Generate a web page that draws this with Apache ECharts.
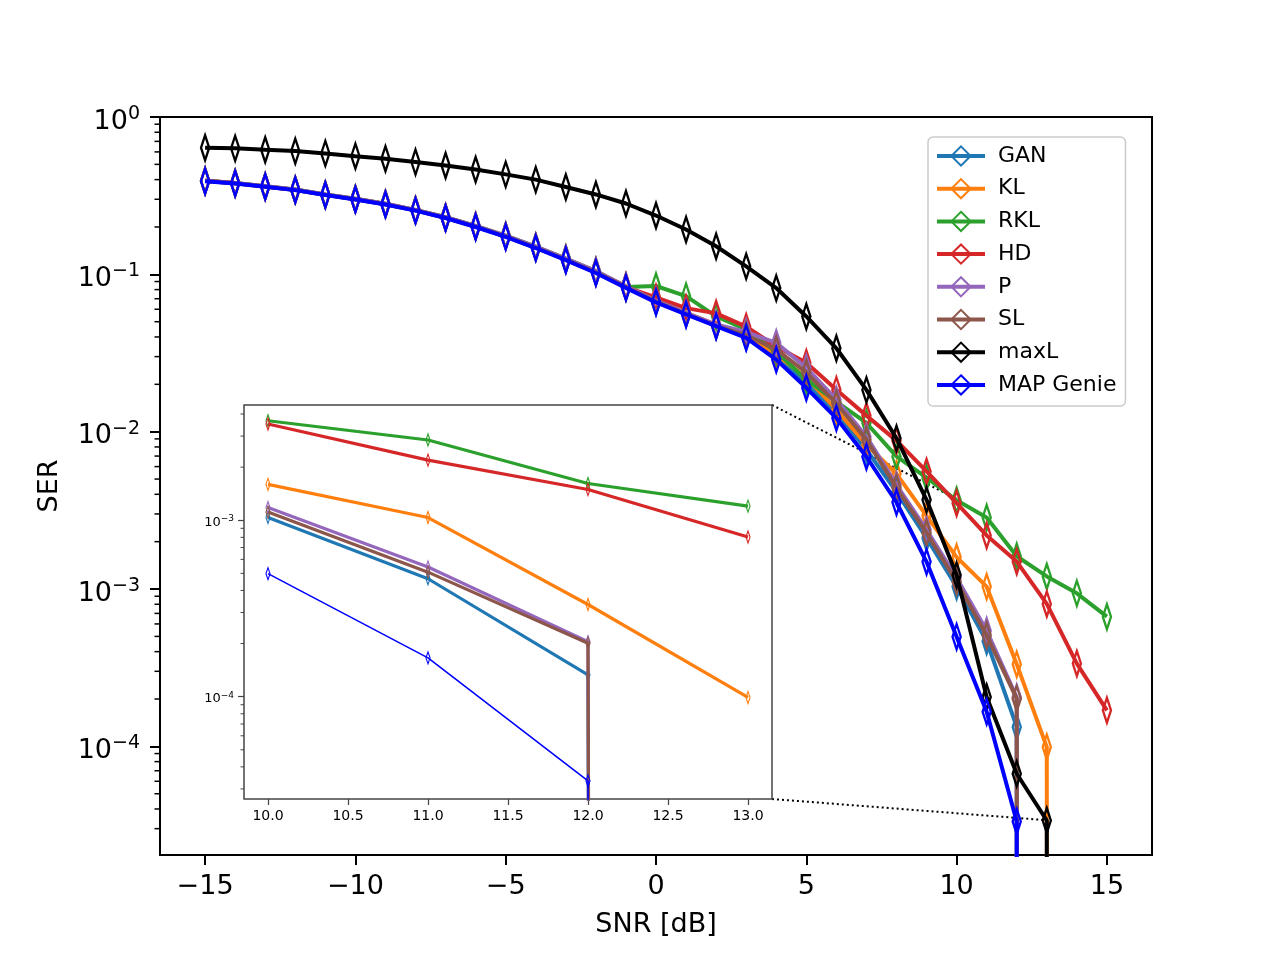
<!DOCTYPE html>
<html><head><meta charset="utf-8">
<script src="https://cdn.jsdelivr.net/npm/echarts@6/dist/echarts.min.js"></script>
<style>html,body{margin:0;padding:0;background:#fff}#c{width:1280px;height:960px}</style>
</head><body><div id="c"></div>
<script>
// ---------------- data ----------------
const snr = [-15,-14,-13,-12,-11,-10,-9,-8,-7,-6,-5,-4,-3,-2,-1,0,1,2,3,4,5,6,7,8,9,10,11,12,13,14,15];
const names = ['GAN','KL','RKL','HD','P','SL','maxL','MAP Genie'];
const colors = ['#1f77b4','#ff7f0e','#2ca02c','#d62728','#9467bd','#8c564b','#000000','#0000ff'];
const serGAN = [0.392,0.379,0.361,0.344,0.320,0.300,0.279,0.255,0.229,0.201,0.174,0.148,0.124,0.103,0.083,0.067,0.0562,0.0473,0.0400,0.0296,0.0202,0.0132,0.00768,0.00415,0.00211,1.036e-3,4.66e-4,1.33e-4,0,0,0];
const serKL = [0.393,0.380,0.362,0.345,0.321,0.301,0.280,0.256,0.230,0.202,0.175,0.149,0.125,0.104,0.084,0.068,0.057,0.048,0.041,0.031,0.0221,0.0138,0.00826,0.0054,0.00292,1.596e-3,1.036e-3,3.33e-4,9.9e-5,0,0];
const serRKL = [0.394,0.381,0.363,0.346,0.322,0.302,0.281,0.257,0.231,0.203,0.176,0.150,0.126,0.105,0.083,0.0843,0.0727,0.054,0.0446,0.0323,0.0214,0.0155,0.01136,0.00696,0.0051,3.665e-3,2.85e-3,1.616e-3,1.202e-3,9.39e-4,6.67e-4];
const serHD = [0.393,0.380,0.362,0.345,0.321,0.301,0.280,0.256,0.230,0.202,0.175,0.149,0.125,0.104,0.083,0.0714,0.061,0.0565,0.0465,0.0348,0.0274,0.0185,0.01265,0.00877,0.00559,3.51e-3,2.19e-3,1.494e-3,8.04e-4,3.36e-4,1.695e-4];
const serP = [0.394,0.381,0.363,0.346,0.322,0.302,0.281,0.257,0.231,0.203,0.176,0.150,0.126,0.105,0.084,0.068,0.057,0.048,0.043,0.0367,0.0255,0.016,0.0093,0.00459,0.00238,1.18e-3,5.43e-4,2.05e-4,0,0,0];
const serSL = [0.392,0.379,0.361,0.344,0.320,0.300,0.279,0.255,0.229,0.201,0.174,0.148,0.124,0.103,0.083,0.067,0.056,0.047,0.041,0.0333,0.0238,0.0151,0.0089,0.0044,0.00227,1.114e-3,5.08e-4,2.01e-4,0,0,0];
const serMaxL = [0.637,0.632,0.619,0.607,0.587,0.564,0.543,0.517,0.492,0.464,0.432,0.400,0.359,0.322,0.282,0.2365,0.1926,0.1508,0.1124,0.0818,0.054,0.0339,0.01843,0.00909,0.00369,1.228e-3,2.06e-4,6.70e-5,3.38e-5,0,0];
const serMAP = [0.391,0.378,0.360,0.343,0.319,0.299,0.278,0.254,0.228,0.200,0.173,0.147,0.123,0.102,0.082,0.0664,0.0556,0.0468,0.0395,0.0287,0.0190,0.0122,0.00693,0.00356,0.00149,4.98e-4,1.66e-4,3.33e-5,0,0,0];
const allSeries = [serGAN, serKL, serRKL, serHD, serP, serSL, serMaxL, serMAP];

const xTicksMain = [-15,-10,-5,0,5,10,15];
const yTicksMain = [1e-4,1e-3,1e-2,1e-1,1];
const xTicksInset = [10,10.5,11,11.5,12,12.5,13];
const yTicksInset = [1e-4,1e-3];
const insetSeriesIdx = [0,1,2,3,4,5,7];   // maxL not shown in inset
const insetX = [10, 13];

// axis ranges
const mainX = [-16.5, 16.5], mainY = [2.04e-5, 1.0];
const insX = [9.85, 13.15], insY = [2.63e-5, 4.5e-3];
// connector end points on the main axes (data coords)
const connTop = [10.05, 3.7e-3], connBot = [12.95, 3.4e-5];

// ---------------- chart ----------------
const FF = 'DejaVu Sans';
const chart = echarts.init(document.getElementById('c'));
const TINY = 1e-300; // non-positive values clipped like matplotlib
const diamond = 'path://M7,0L14,12L7,24L0,12Z';
function pow10Label(v){
  const e = Math.round(Math.log10(v));
  return '{a|10}{b|' + String(e).replace('-', '−') + '}';
}
function toData(vals, filter){
  const out = [];
  snr.forEach((x,i)=>{ if(!filter || (x>=filter[0] && x<=filter[1])) out.push([x, vals[i] > 0 ? vals[i] : TINY]); });
  return out;
}
const series = [];
allSeries.forEach((vals, k)=>{
  series.push({
    name: names[k], type:'line', xAxisIndex:0, yAxisIndex:0, z: 2+k*0.01,
    data: toData(vals), color: colors[k],
    lineStyle:{color: colors[k], width:4},
    symbol: diamond, symbolKeepAspect: true, symbolSize:[14,25],
    itemStyle:{color:'rgba(255,255,255,0)', borderColor: colors[k], borderWidth:2.8},
    emphasis:{disabled:true}, animation:false, clip:true
  });
});
insetSeriesIdx.forEach(k=>{
  series.push({
    name: names[k], type:'line', xAxisIndex:1, yAxisIndex:1, z: 10+k*0.01,
    data: toData(allSeries[k], insetX), color: colors[k],
    lineStyle:{color: colors[k], width: k===7 ? 1.6 : 3.2},
    symbol: diamond, symbolKeepAspect: true, symbolSize:[7,12],
    itemStyle:{color:'rgba(255,255,255,0)', borderColor: colors[k], borderWidth:1.3},
    emphasis:{disabled:true}, animation:false, clip:true
  });
});

const option = {
  backgroundColor:'#fff',
  animation:false,
  textStyle:{fontFamily:FF},
  grid:[
    {left:160, top:117, width:992, height:738, show:true, borderColor:'#000', borderWidth:2, backgroundColor:'transparent', z:0},
    {left:244, top:405, width:528, height:394, show:true, borderColor:'#444', borderWidth:1.5, backgroundColor:'#fff', z:5}
  ],
  xAxis:[
    {type:'value', gridIndex:0, min:mainX[0], max:mainX[1], splitLine:{show:false},
     axisLine:{show:false, onZero:false}, axisTick:{show:true, length:10, lineStyle:{color:'#000', width:2}, customValues:xTicksMain},
     axisLabel:{customValues:xTicksMain, margin:18, fontSize:27, color:'#000', fontFamily:FF,
       formatter:v=> v<0 ? '−'+Math.abs(v) : String(v)},
     name:'SNR [dB]', nameLocation:'middle', nameGap:56, nameTextStyle:{fontSize:27, color:'#000', fontFamily:FF}},
    {type:'value', gridIndex:1, min:insX[0], max:insX[1], splitLine:{show:false}, z:6,
     axisLine:{show:false, onZero:false}, axisTick:{show:true, length:6, lineStyle:{color:'#444', width:1.2}, customValues:xTicksInset},
     axisLabel:{customValues:xTicksInset, margin:10, fontSize:14, color:'#000', fontFamily:FF,
       formatter:v=> v.toFixed(1)}}
  ],
  yAxis:[
    {type:'log', logBase:10, gridIndex:0, min:mainY[0], max:mainY[1], splitLine:{show:false},
     axisLine:{show:false, onZero:false}, axisTick:{show:true, length:10, lineStyle:{color:'#000', width:2}, customValues:yTicksMain},
     axisLabel:{customValues:yTicksMain, margin:20, color:'#000', fontFamily:FF, padding:[9,0,0,0],
       formatter:v=>pow10Label(v),
       rich:{a:{fontSize:27, fontFamily:FF, color:'#000'}, b:{fontSize:19, fontFamily:FF, color:'#000', padding:[0,0,15,0]}}},
     name:'SER', nameLocation:'middle', nameGap:97, nameRotate:90, nameTextStyle:{fontSize:27, color:'#000', fontFamily:FF}},
    {type:'log', logBase:10, gridIndex:1, min:insY[0], max:insY[1], splitLine:{show:false}, z:6,
     axisLine:{show:false, onZero:false}, axisTick:{show:true, length:6, lineStyle:{color:'#444', width:1.2}, customValues:yTicksInset},
     axisLabel:{customValues:yTicksInset, margin:10, color:'#000', fontFamily:FF, padding:[4,0,0,0],
       formatter:v=>pow10Label(v),
       rich:{a:{fontSize:13, fontFamily:FF, color:'#000'}, b:{fontSize:9, fontFamily:FF, color:'#000', padding:[0,0,7,0]}}}}
  ],
  legend:{
    data:names, orient:'vertical', left:928, top:137,
    itemWidth:48, itemHeight:24, itemGap:10.7, padding:[8,9,10,7],
    lineStyle:{width:4},
    backgroundColor:'rgba(255,255,255,0.85)', borderColor:'#cccccc', borderWidth:1.5, borderRadius:5,
    textStyle:{fontSize:22, color:'#000', fontFamily:FF, padding:[0,0,0,8]},
    selectedMode:false, z:20
  },
  series: series
};
chart.setOption(option);

// --- minor ticks and inset connectors computed through the axes ---
function minorVals(lo, hi){
  const out = [];
  for(let e=-6;e<=1;e++){ for(let m=2;m<=9;m++){ const v=m*Math.pow(10,e); if(v>=lo && v<=hi) out.push(v); } }
  return out;
}
const g = [];
minorVals(mainY[0], mainY[1]).forEach(v=>{
  const p = chart.convertToPixel({gridIndex:0}, [mainX[0], v]);
  g.push({type:'line', shape:{x1:p[0]-5.5, y1:p[1], x2:p[0], y2:p[1]}, style:{stroke:'#000', lineWidth:1.5}, z:10});
});
minorVals(insY[0], insY[1]).forEach(v=>{
  const p = chart.convertToPixel({gridIndex:1}, [insX[0], v]);
  g.push({type:'line', shape:{x1:p[0]-3.5, y1:p[1], x2:p[0], y2:p[1]}, style:{stroke:'#444', lineWidth:1}, z:10});
});
const iTR = chart.convertToPixel({gridIndex:1}, [insX[1], insY[1]]);
const iBR = chart.convertToPixel({gridIndex:1}, [insX[1], insY[0]]);
const mT = chart.convertToPixel({gridIndex:0}, connTop);
const mB = chart.convertToPixel({gridIndex:0}, connBot);
[[iTR,mT],[iBR,mB]].forEach(([a,b])=>{
  g.push({type:'line', shape:{x1:a[0], y1:a[1], x2:b[0], y2:b[1]}, style:{stroke:'#000', lineWidth:2, lineDash:[2,3]}, z:1});
});
chart.setOption({graphic: g});
</script>
</body></html>
